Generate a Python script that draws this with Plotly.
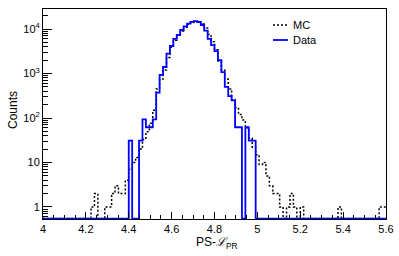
import numpy as np
import plotly.graph_objects as go

# Histogram binning: 100 bins from 4.0 to 5.6
x_min, x_max, n_bins = 4.0, 5.6, 100

data_counts = [0]*25 + [31, 0, 0, 31, 93, 62, 62, 93, 372, 930,
    1400, 2800, 4150, 6000, 7400, 9500, 11500, 13200, 14500, 15000,
    14400, 12300, 9200, 6000, 4350, 3200, 2000, 1070, 500, 310,
    250, 62, 62, 0, 62, 31, 31] + [0]*38

mc_counts = [0]*14 + [1, 2, 0, 0, 1, 1, 2, 3, 2, 2,
    4, 7, 10, 13, 20, 33, 49, 76, 150, 450,
    750, 1200, 2300, 3900, 5600, 7200, 9000, 11000, 12800, 14000,
    14600, 14400, 13000, 10500, 7500, 5200, 3400, 1900, 1200, 750,
    450, 260, 170, 120, 90, 60, 35, 22, 15, 9,
    10, 5, 3, 2, 2, 1, 0, 1, 2, 1,
    0, 1] + [0]*10 + [1] + [0]*11 + [1, 1]

x_tick_vals = [4, 4.2, 4.4, 4.6, 4.8, 5, 5.2, 5.4, 5.6]
x_tick_text = ["4", "4.2", "4.4", "4.6", "4.8", "5", "5.2", "5.4", "5.6"]
y_tick_vals = [1, 10, 100, 1000, 10000]
y_tick_text = ["1", "10", "10<sup>2</sup>", "10<sup>3</sup>", "10<sup>4</sup>"]

series_names = ["MC", "Data"]
series_colors = ["black", "#0000ff"]
series_dash = ["2px,2px", "solid"]
series_widths = [1.5, 1.8]

y_log_range = [-0.27, 4.45]
floor_val = 10 ** (y_log_range[0] + 0.01)

edges = np.linspace(x_min, x_max, n_bins + 1)


def step_y(counts):
    c = np.array(counts, dtype=float)
    c[c <= 0] = floor_val
    return np.append(c, c[-1])


fig = go.Figure()
for name, counts, col, dash, w in zip(series_names, [mc_counts, data_counts],
                                      series_colors, series_dash, series_widths):
    fig.add_trace(go.Scatter(
        x=edges, y=step_y(counts), mode="lines", line_shape="hv",
        name=name, showlegend=False, hoverinfo="skip",
        line=dict(color=col, width=w, dash=dash)))

font_family = "Liberation Sans, Arial, sans-serif"
W, H = 399, 256
L, R, T, B = 43, 13, 9, 37
pw, ph = W - L - R, H - T - B


def px_x(p):
    return (p - L) / pw


def px_y(p):
    return 1 - (p - T) / ph


# manual legend (ROOT-style, no box)
shapes = []
annotations = []
for i, (name, col, dash, w) in enumerate(zip(series_names, series_colors, series_dash, series_widths)):
    yy = px_y(25 + 15 * i)
    shapes.append(dict(type="line", xref="paper", yref="paper",
                       x0=px_x(273), x1=px_x(288), y0=yy, y1=yy,
                       line=dict(color=col, width=w, dash=dash)))
    annotations.append(dict(text=name, xref="paper", yref="paper",
                            x=px_x(291), y=yy, xanchor="left", yanchor="middle",
                            showarrow=False, font=dict(size=11)))

annotations.append(dict(text="PS-<i>ℒ</i><sub>PR</sub>", xref="paper", yref="paper",
                        x=px_x(217), y=px_y(243), xanchor="center", yanchor="middle",
                        showarrow=False, font=dict(size=12)))
annotations.append(dict(text="Counts", xref="paper", yref="paper", textangle=-90,
                        x=px_x(13), y=px_y(110), xanchor="center", yanchor="middle",
                        showarrow=False, font=dict(size=12)))

fig.update_layout(
    width=W, height=H,
    margin=dict(l=L, r=R, t=T, b=B),
    paper_bgcolor="white", plot_bgcolor="white",
    font=dict(family=font_family, size=11, color="black"),
    showlegend=False,
    shapes=shapes, annotations=annotations,
    xaxis=dict(
        range=[x_min, x_max], tickvals=x_tick_vals, ticktext=x_tick_text,
        ticks="inside", ticklen=7, tickcolor="black", automargin=False,
        showgrid=False, zeroline=False,
        showline=True, linecolor="black", linewidth=1, mirror=True,
        minor=dict(dtick=0.05, ticks="inside", ticklen=4, tickcolor="black", showgrid=False),
    ),
    yaxis=dict(
        type="log", range=y_log_range, tickvals=y_tick_vals, ticktext=y_tick_text,
        ticks="inside", ticklen=9, tickcolor="black", automargin=False,
        showgrid=False, zeroline=False,
        showline=True, linecolor="black", linewidth=1, mirror=True,
        minor=dict(dtick="D1", ticks="inside", ticklen=5, tickcolor="black", showgrid=False),
    ),
)

fig.write_html("out.html", config={"displayModeBar": False},
               post_script="document.body.style.margin='0';document.body.style.padding='0';")
